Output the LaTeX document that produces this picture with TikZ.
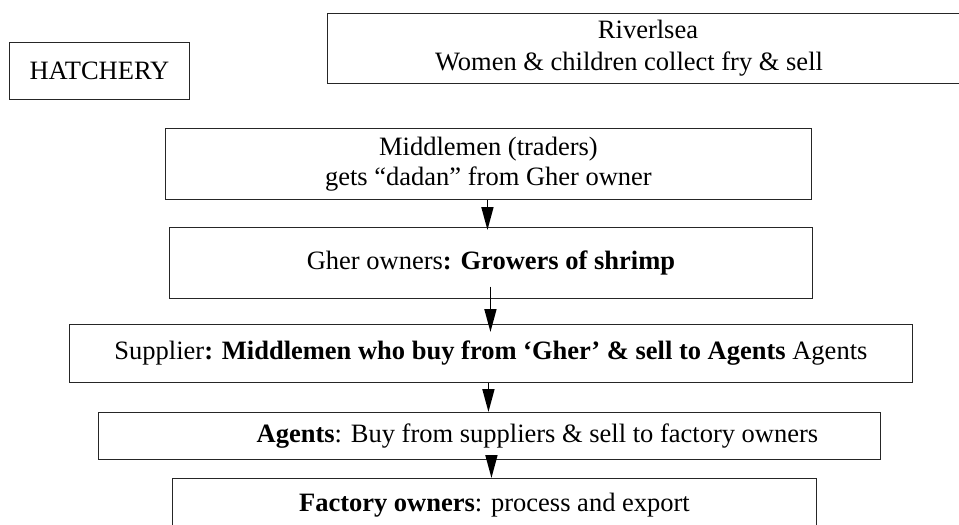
\documentclass[tikz,border=0pt]{standalone}
\usepackage{fontspec}
\setmainfont{Liberation Serif}
\usetikzlibrary{arrows.meta}
\tikzset{
  box/.style={draw=black!85, line width=0.9pt, anchor=north west, inner sep=0pt,
    align=center, font=\fontsize{26.5}{30}\selectfont},
  txt/.style={inner sep=0pt, align=center, font=\fontsize{26.5}{32}\selectfont},
  arr/.style={draw=black, line width=1.6pt, -{Triangle[length=23pt,width=12pt]}}
}
\begin{document}
\begin{tikzpicture}[x=1pt,y=-1pt]
\useasboundingbox (0,0) rectangle (959,525);
\clip (0,0) rectangle (959,525);
\node[box, minimum width=179.4pt, minimum height=57pt] (hatch) at (9.3,42) {HATCHERY};
\node[box, minimum width=653pt, minimum height=70pt] (river) at (327,12.7) {};
\node[txt] (rivertext) at (629,48.5) {\hspace*{38pt}Riverlsea\\Women \& children collect fry \& sell};
\node[box, minimum width=646pt, minimum height=71pt] (mid) at (165,128) {Middlemen (traders)\\gets “dadan” from Gher owner};
\node[box, minimum width=643pt, minimum height=70.7pt] (gher) at (169,227) {Gher owners\textbf{: Growers of shrimp}};
\node[box, minimum width=843pt, minimum height=58pt] (sup) at (69,324) {Supplier\textbf{: Middlemen who buy from ‘Gher’ \& sell to Agents} Agents};
\node[box, minimum width=782pt, minimum height=46.7pt] (agent) at (98,412) {\hspace*{96pt}\textbf{Agents}: Buy from suppliers \& sell to factory owners};
\node[box, minimum width=644pt, minimum height=54pt] (fact) at (172,478) {\textbf{Factory owners}: process and export};
\draw[arr] ([xshift=-1pt]mid.south) -- ([xshift=-3.5pt,yshift=-3pt]gher.north);
\draw[arr] ([xshift=-0.5pt,yshift=12pt]gher.south) -- ([xshift=-0.5pt,yshift=-8pt]sup.north);
\draw[arr] ([xshift=-2.5pt]sup.south) -- ([xshift=-1pt]agent.north);
\draw[arr] ([xshift=2pt]agent.south) -- ([xshift=-3pt]fact.north);
\end{tikzpicture}
\end{document}
